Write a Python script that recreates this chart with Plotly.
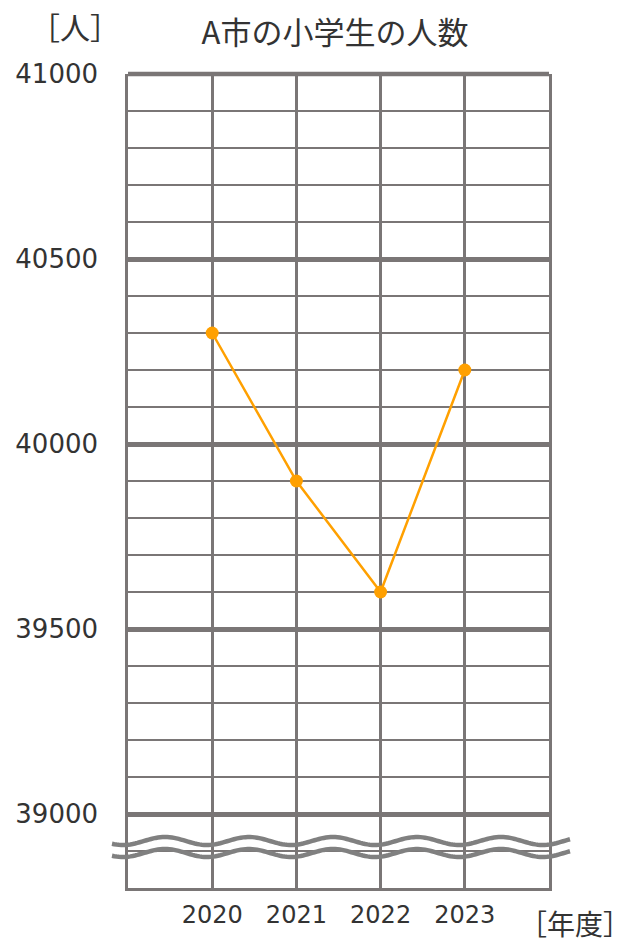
import numpy as np
import plotly.graph_objects as go

# ---- data ----
years = ["2020", "2021", "2022", "2023"]
x_pos = [1, 2, 3, 4]
pupils = [40300, 39900, 39600, 40200]
y_major_ticks = [39000, 39500, 40000, 40500, 41000]
y_tick_text = ["39000", "39500", "40000", "40500", "41000"]

title_text = "A市の小学生の人数"
y_unit = "［人］"
x_unit = "［年度］"

W, H = 634, 942
L, R, T, B = 128, 85, 74, 54
PW, PH = W - L - R, H - T - B

GRID = "#7a7676"
TXT = "#333333"
ORANGE = "#FFA000"
FONT = "Noto Sans CJK JP, Noto Sans, sans-serif"
NUMFONT = "DejaVu Sans, sans-serif"


def px_to_paper(px, py):
    return (px - L) / PW, (H - B - py) / PH


fig = go.Figure()
fig.add_trace(go.Scatter(
    x=x_pos, y=pupils, mode="lines+markers",
    line=dict(color=ORANGE, width=2.5),
    marker=dict(color=ORANGE, size=13),
    hoverinfo="skip", showlegend=False,
))

fig.update_layout(
    width=W, height=H,
    margin=dict(l=L, r=R, t=T, b=B, pad=0),
    paper_bgcolor="white", plot_bgcolor="white",
    font=dict(family=FONT, color=TXT),
    title=dict(text=title_text, x=335 / W, xanchor="center",
               y=1 - 33 / H, yanchor="middle",
               font=dict(size=31, color=TXT, family=FONT)),
    xaxis=dict(
        range=[0, 5], tickvals=x_pos, ticktext=years,
        showgrid=True, gridcolor=GRID, gridwidth=2.5,
        zeroline=False, showline=True, linecolor=GRID, linewidth=2.5,
        mirror=False, ticks="", ticklabelstandoff=3,
        tickfont=dict(size=24, color=TXT, family=NUMFONT),
        fixedrange=True,
    ),
    yaxis=dict(
        range=[38800, 41000], tickvals=y_major_ticks, ticktext=y_tick_text,
        showgrid=True, gridcolor=GRID, gridwidth=4.5,
        minor=dict(dtick=100, tick0=0, showgrid=True, gridcolor=GRID, gridwidth=2.2),
        zeroline=False, showline=True, linecolor=GRID, linewidth=2.5,
        mirror=True, ticks="", ticklabelstandoff=22,
        tickfont=dict(size=26, color=TXT, family=NUMFONT),
        fixedrange=True,
    ),
)

# top thick border line (41000 major gridline at edge)
fig.add_shape(type="line", xref="paper", yref="paper", x0=0, x1=1, y0=1, y1=1,
              line=dict(color=GRID, width=4.5), layer="below")

# wavy break marks
def wave_path(cy, amp=4.0, period=84.0, x0=112, x1=570):
    xs = np.linspace(x0, x1, 200)
    ys = cy - amp * np.cos(2 * np.pi * (xs - 165) / period)
    pts = [px_to_paper(a, b) for a, b in zip(xs, ys)]
    return "M " + " L ".join(f"{a:.5f},{b:.5f}" for a, b in pts)

for cy in (841, 853):
    fig.add_shape(type="path", xref="paper", yref="paper", path=wave_path(cy),
                  line=dict(color="#808080", width=4.5), layer="above")

# unit labels
ux, uy = px_to_paper(75, 26)
fig.add_annotation(text=y_unit, xref="paper", yref="paper", x=ux, y=uy,
                   xanchor="center", yanchor="middle", showarrow=False,
                   font=dict(size=30, color=TXT, family=FONT))
vx, vy = px_to_paper(575, 923)
fig.add_annotation(text=x_unit, xref="paper", yref="paper", x=vx, y=vy,
                   xanchor="center", yanchor="middle", showarrow=False,
                   font=dict(size=28, color=TXT, family=FONT))

fig.write_html("out.html", config={"displayModeBar": False},
               post_script="document.body.style.margin='0';document.body.style.overflow='hidden';")
